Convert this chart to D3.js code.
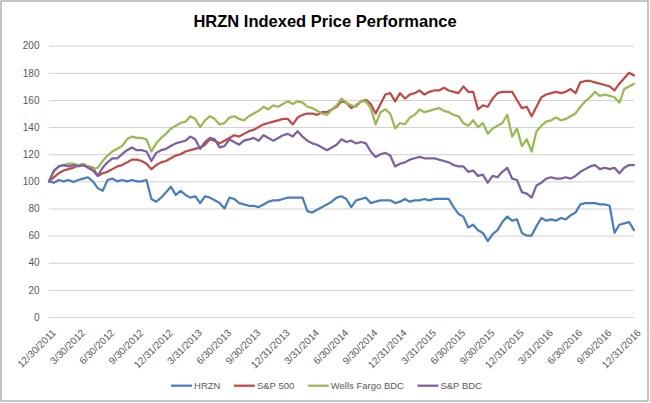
<!DOCTYPE html>
<html><head><meta charset="utf-8">
<script src="https://cdn.jsdelivr.net/npm/d3@7"></script>
<style>body{margin:0;background:#fff}svg{display:block}</style>
</head><body>
<svg id="c" width="650" height="403"></svg>
<script>
const quarterLabels = ["12/30/2011","3/30/2012","6/30/2012","9/30/2012","12/31/2012","3/31/2013","6/30/2013","9/30/2013","12/31/2013","3/31/2014","6/30/2014","9/30/2014","12/31/2014","3/31/2015","6/30/2015","9/30/2015","12/31/2015","3/31/2016","6/30/2016","9/30/2016","12/31/2016"];
const seriesNames = ["HRZN","S&P 500","Wells Fargo BDC","S&P BDC"];
const yTicks = [0,20,40,60,80,100,120,140,160,180,200];
const pointsPerQuarter = 6;

const hrzn = [100,99,101,100,101,99.5,101,102,103,100,95,93,101,102,100,101,100,101,100,100,101,87,85,88,92,96,90,93,90,88,89,
84,89,88,86,84,80,88,87,84,83,82,82,81,83,85,86,86,87,88,88,88,88,78,77,79,81,83,85,88,
89,87,81,86,87,88,84,85,86,86,86,84,85,87,85,86,86,87,86,87,87,87,87,81,76,74,66,68,64,62,
56,61,64,70,74,71,72,62,60,60,67,73,71,72,71,73,72,75,77,83,84,84,84,83,83,82,62,68,69,70,64];
const sp500 = [100,103,106,108,109,110,112,112,111,110,104,106,107,109,111,112,114,116,116,115,113,109,112,114,115,117,119,120,122,123,124,
125,127,131,130,128,130,132,134,133,135,137,138,140,142,143,144,145,146,146,142,147,149,150,150,149,151,151,153,155,
159,158,154,156,159,160,157,150,157,164,165,159,165,161,164,165,167,164,166,167,167,169,167,166,165,170,166,166,153,156,
155,161,165,166,166,166,160,154,155,148,155,162,164,165,166,165,166,168,165,173,174,174,173,172,171,170,167,172,176,180,178];
const wfBdc = [100,107,111,112,113,113,112,113,111,109,110,115,119,122,124,126,131,133,132,132,131,122,128,132,135,139,141,143,144,148,146,
140,145,148,146,142,143,147,148,146,145,148,150,152,155,153,156,155,157,159,157,159,158,155,154,152,150,149,153,156,
161,158,156,155,159,159,154,142,151,153,150,139,143,142,147,149,153,151,152,153,154,152,151,149,148,143,141,145,140,143,
135,139,141,143,149,133,139,126,131,122,137,141,144,145,147,145,146,148,150,155,159,162,166,163,164,163,162,158,168,170,172];
const spBdc = [100,108,111,112,111,112,111,112,110,108,104,110,114,117,117,120,123,125,123,123,122,115,121,123,124,126,128,129,130,133,131,
124,129,132,131,125,126,131,129,127,130,131,132,130,134,132,130,132,134,135,133,137,133,130,128,127,125,123,125,127,
131,129,130,128,129,128,122,118,120,121,119,111,113,114,116,117,118,117,117,117,116,115,114,112,111,111,107,108,104,105,
99,104,103,107,110,102,101,92,91,88,97,99,102,103,102,102,103,102,104,107,109,111,112,109,110,109,110,106,110,112,112];
const seriesColors = ["#4A7EBB","#BE4B48","#98B954","#7D60A0"];

const svg = d3.select("#c");
const W = 650, H = 403;
const plot = {left: 49, right: 634, top: 45.7, bottom: 317};
const font = "'Liberation Sans', Arial, sans-serif";

svg.append("rect").attr("x",1).attr("y",1).attr("width",647).attr("height",400)
  .attr("fill","#fff").attr("stroke","#8c8c8c").attr("stroke-width",1);

const nPts = hrzn.length;
const x = d3.scaleLinear().domain([0, nPts-1]).range([plot.left, plot.right]);
const y = d3.scaleLinear().domain([0, 200]).range([plot.bottom, plot.top]);

// gridlines + y axis
const yAxis = d3.axisLeft(y).tickValues(yTicks).tickSize(-(plot.right-plot.left)).tickPadding(9.5);
const gy = svg.append("g").attr("transform",`translate(${plot.left},0)`).call(yAxis);
gy.select(".domain").remove();
gy.selectAll(".tick line").attr("stroke","#d0d0d0").attr("stroke-width",1);
gy.selectAll(".tick text").attr("fill","#595959").style("font-family",font).style("font-size","10px");

// x axis (category-like quarter labels)
const xTickVals = quarterLabels.map((d,i)=>i*pointsPerQuarter);
const xAxis = d3.axisBottom(x).tickValues(xTickVals).tickSize(0).tickFormat((d,i)=>quarterLabels[i]);
const gx = svg.append("g").attr("transform",`translate(0,${plot.bottom})`).call(xAxis);
gx.select(".domain").remove();
gx.selectAll(".tick text")
  .attr("fill","#595959").style("font-family",font).style("font-size","10px")
  .attr("text-anchor","end").attr("dy",null).attr("y",null)
  .attr("transform","translate(7,16.5) rotate(-45)");

// lines
const allSeries = [hrzn, sp500, wfBdc, spBdc];
const line = d3.line().x((d,i)=>x(i)).y(d=>y(d));
allSeries.forEach((s,k)=>{
  svg.append("path").datum(s).attr("d",line).attr("fill","none")
    .attr("stroke",seriesColors[k]).attr("stroke-width",2.25)
    .attr("stroke-linejoin","round").attr("stroke-linecap","round");
});

// title
const title = svg.append("text").attr("x",325).attr("y",27.3).attr("text-anchor","middle")
  .style("font-family",font).style("font-weight","bold").style("font-size","16.5px")
  .attr("fill","#000").text("HRZN Indexed Price Performance");

// legend
const lg = svg.append("g");
const lineLen = 21, gapLT = 2, gapItem = 13.5;
const items = seriesNames.map((n,k)=>{
  const g = lg.append("g");
  g.append("line").attr("x1",0).attr("x2",lineLen).attr("y1",0).attr("y2",0)
    .attr("stroke",seriesColors[k]).attr("stroke-width",2.25);
  const t = g.append("text").attr("x",lineLen+gapLT).attr("y",3.4)
    .style("font-family",font).style("font-size","9.5px").attr("fill","#595959").text(n);
  return {g, w: lineLen+gapLT+t.node().getComputedTextLength()};
});
const total = d3.sum(items,d=>d.w) + gapItem*(items.length-1);
let cx = 326.5 - total/2;
items.forEach(it=>{ it.g.attr("transform",`translate(${cx},385.7)`); cx += it.w + gapItem; });
</script>
</body></html>
